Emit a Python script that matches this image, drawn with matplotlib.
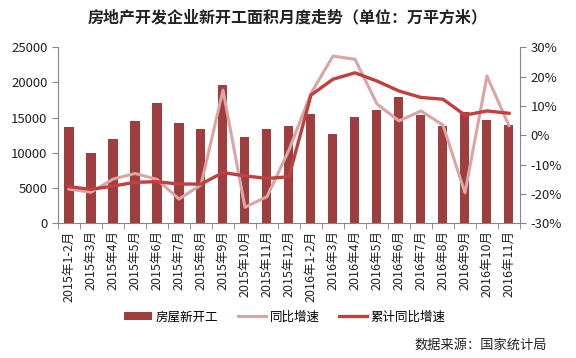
import numpy as np
import matplotlib.pyplot as plt
from matplotlib.ticker import FuncFormatter

plt.rcParams['font.family'] = ['Noto Sans CJK SC', 'DejaVu Sans']

# data
months = ["2015年1-2月", "2015年3月", "2015年4月", "2015年5月", "2015年6月",
          "2015年7月", "2015年8月", "2015年9月", "2015年10月", "2015年11月",
          "2015年12月", "2016年1-2月", "2016年3月", "2016年4月", "2016年5月",
          "2016年6月", "2016年7月", "2016年8月", "2016年9月", "2016年10月",
          "2016年11月"]
new_starts = [13700, 10000, 12000, 14500, 17100, 14200, 13350, 19600, 12200,
              13350, 13800, 15500, 12700, 15100, 16100, 17900, 15400, 13800,
              15800, 14700, 13900]
yoy = [-18.3, -19.4, -14.9, -13.0, -15.0, -21.7, -16.9, 15.4, -24.5, -20.9,
       -5.0, 14.3, 27.0, 25.9, 10.7, 4.9, 8.3, 3.5, -19.6, 20.2, 3.3]
cum_yoy = [-17.5, -18.4, -17.3, -16.0, -15.8, -16.6, -16.6, -12.7, -13.8,
           -14.7, -14.1, 13.7, 19.1, 21.3, 18.5, 15.1, 12.9, 12.3, 6.9, 8.3,
           7.5]

bar_color = "#9E3E3E"
light_color = "#D9A5A5"
dark_color = "#C0403F"
axis_color = "#868686"


def style_axes(ax, ax2, n):
    for side in ("top", "right"):
        ax.spines[side].set_visible(False)
    ax.spines["left"].set_color(axis_color)
    ax.spines["bottom"].set_color(axis_color)
    for side in ("top", "left", "bottom"):
        ax2.spines[side].set_visible(False)
    ax2.spines["right"].set_color(axis_color)

    ax.set_xlim(-0.5, n - 0.5)
    ax.set_xticks(np.arange(n))
    ax.set_xticks(np.arange(n + 1) - 0.5, minor=True)
    ax.tick_params(axis="x", which="major", length=0, pad=5)
    ax.tick_params(axis="x", which="minor", length=4, color=axis_color)
    ax.tick_params(axis="y", length=4, color=axis_color, labelsize=9.5,
                   labelcolor="#222222")
    ax2.tick_params(axis="y", length=4, color=axis_color, labelsize=9.5,
                    labelcolor="#222222")


def main():
    n = len(months)
    x = np.arange(n)
    fig = plt.figure(figsize=(5.76, 3.58), dpi=100)
    ax = fig.add_axes([0.1007, 0.376, 0.802, 0.492])
    ax2 = ax.twinx()

    bars = ax.bar(x, new_starts, width=0.41, color=bar_color, zorder=2,
                  label="房屋新开工")
    ax.set_ylim(0, 25000)
    ax.set_yticks(np.arange(0, 25001, 5000))
    ax.set_xticklabels(months, rotation=90, fontsize=9, color="#222222")

    l1, = ax2.plot(x, yoy, color=light_color, lw=2.2, label="同比增速")
    l2, = ax2.plot(x, cum_yoy, color=dark_color, lw=2.4, label="累计同比增速")
    ax2.set_ylim(-30, 30)
    ax2.set_yticks(np.arange(-30, 31, 10))
    ax2.yaxis.set_major_formatter(FuncFormatter(lambda v, p: "%d%%" % v))

    style_axes(ax, ax2, n)

    fig.text(0.5, 0.95, "房地产开发企业新开工面积月度走势（单位：万平方米）",
             ha="center", va="center", fontsize=11.5, fontweight="bold",
             color="#222222")
    fig.legend([bars, l1, l2], ["房屋新开工", "同比增速", "累计同比增速"],
               loc="center", bbox_to_anchor=(0.495, 0.115), ncol=3,
               frameon=False, fontsize=9, handlelength=2.2,
               handletextpad=0.3, columnspacing=1.6)
    fig.text(0.95, 0.035, "数据来源：国家统计局", ha="right", va="center",
             fontsize=9.5, color="#222222")

    fig.savefig("out.png", dpi=100)


if __name__ == "__main__":
    main()
